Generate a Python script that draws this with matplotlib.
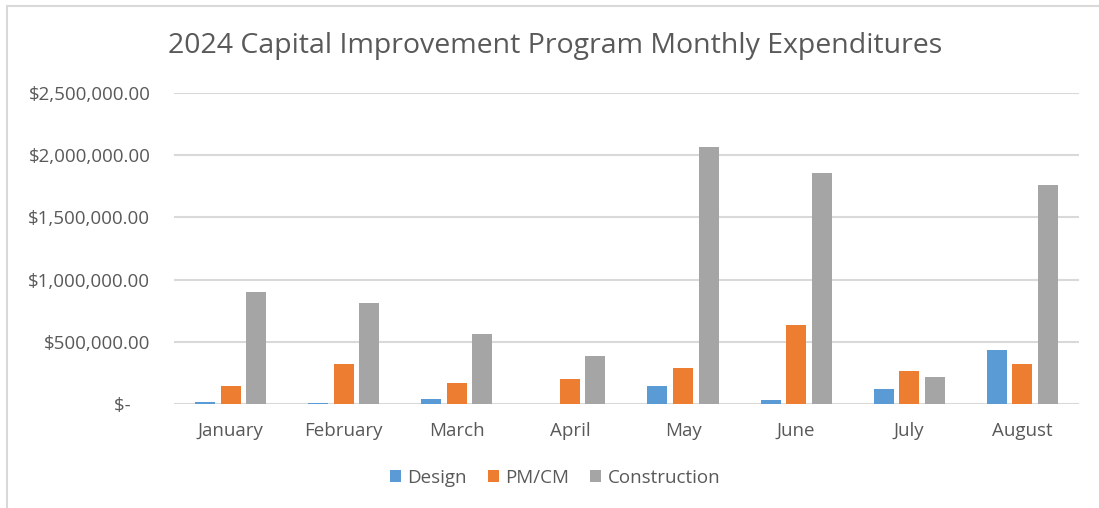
import matplotlib.pyplot as plt
import numpy as np
from matplotlib.patches import Rectangle
from matplotlib.ticker import FuncFormatter

plt.rcParams["font.family"] = ["Open Sans", "DejaVu Sans"]

months = ["January", "February", "March", "April", "May", "June", "July", "August"]
design = [14000, 12000, 40000, 0, 147000, 30000, 121000, 432000]
pm_cm = [147000, 319000, 166000, 204000, 292000, 637000, 268000, 319000]
construction = [898000, 809000, 565000, 383000, 2068000, 1859000, 220000, 1760000]

series = [
    ("Design", design, "#5B9BD5"),
    ("PM/CM", pm_cm, "#ED7D31"),
    ("Construction", construction, "#A5A5A5"),
]

TEXT = "#595959"


def money(v, pos):
    if v == 0:
        return "$-    "
    return f"${v:,.2f}"


fig = plt.figure(figsize=(10.99, 5.08), dpi=100)
ax = fig.add_axes([0.1583, 0.2047, 0.8235, 0.6122])

x = np.arange(len(months))
width = 0.177
step = 0.226
for i, (name, vals, color) in enumerate(series):
    ax.bar(x + (i - 1) * step, vals, width, color=color, label=name,
           linewidth=0, zorder=3)

ax.set_xlim(-0.5, len(months) - 0.5)
ax.set_ylim(0, 2500000)
ax.set_yticks(np.arange(0, 2500001, 500000))
ax.yaxis.set_major_formatter(FuncFormatter(money))
ax.set_xticks(x)
ax.set_xticklabels(months)
ax.grid(axis="y", color="#D9D9D9", linewidth=1.5, zorder=0)
for s in ax.spines.values():
    s.set_visible(False)
ax.tick_params(length=0, colors=TEXT, labelsize=13.5)
ax.tick_params(axis="y", pad=17)
ax.tick_params(axis="x", pad=13)

fig.text(0.505, 0.91, "2024 Capital Improvement Program Monthly Expenditures",
         ha="center", va="center", fontsize=20.5, color=TEXT)

leg = fig.legend(loc="center", bbox_to_anchor=(0.505, 0.059), ncol=3, frameon=False,
                 fontsize=13.5, handlelength=0.6, handleheight=0.6,
                 columnspacing=1.1, handletextpad=0.35)
for t in leg.get_texts():
    t.set_color(TEXT)

# chart border (right and bottom edges are cut off in the original)
fig.patches.append(Rectangle((7 / 1099, -0.1), 1.2, 1 - 6 / 508 + 0.1,
                             transform=fig.transFigure, fill=False,
                             edgecolor="#D9D9D9", linewidth=1.5))

fig.savefig("out.png", dpi=100)
